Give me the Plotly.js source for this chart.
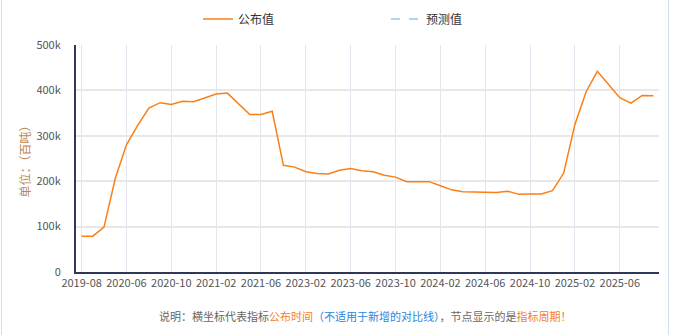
<!DOCTYPE html>
<html>
<head>
<meta charset="utf-8">
<script src="https://cdn.plot.ly/plotly-3.0.1.min.js"></script>
<style>
html,body{margin:0;padding:0;background:#fff;}
#wrap{position:relative;width:679px;height:335px;}
#chart{position:absolute;left:0;top:0;width:679px;height:335px;}
#frame{position:absolute;left:1px;top:0;width:666px;height:335px;border-left:1px solid #d3dcf6;border-right:1px solid #d3dcf6;pointer-events:none;}
</style>
</head>
<body>
<div id="wrap"><div id="chart"></div><div id="frame"></div></div>
<script>
const categories = ["2019-08","2019-10","2020-01","2020-04","2020-06","2020-07","2020-08","2020-09","2020-10","2020-11","2020-12","2021-01","2021-02","2021-03","2021-04","2021-05","2021-06","2021-08","2022-06","2022-12","2023-02","2023-03","2023-04","2023-05","2023-06","2023-07","2023-08","2023-09","2023-10","2023-11","2023-12","2024-01","2024-02","2024-03","2024-04","2024-05","2024-06","2024-07","2024-08","2024-09","2024-10","2024-11","2024-12","2025-01","2025-02","2025-03","2025-04","2025-05","2025-06","2025-07","2025-08","2025-09"];
const publishedValues = [79000,79000,99000,206000,280000,323000,361000,373000,369000,376000,375000,383000,392000,394000,370000,347000,347000,354000,235000,231000,221000,217000,216000,224000,228000,223000,221000,213000,209000,199000,199000,199000,190000,181000,177000,176000,176000,175000,178000,171000,172000,172000,179000,218000,325000,397000,442000,414000,384000,372000,389000,388000];
const forecastCategories = ["2019-08"];
const forecastValues = [null];
const xTickLabels = ["2019-08","2020-06","2020-10","2021-02","2021-06","2023-02","2023-06","2023-10","2024-02","2024-06","2024-10","2025-02","2025-06"];
const yTickVals = [0,100000,200000,300000,400000,500000];
const yTickText = ["0","100k","200k","300k","400k","500k"];

const FONT = '"Noto Sans CJK SC", "Noto Sans", sans-serif';

const traces = [
  {x: categories, y: publishedValues, name: "公布值", type: "scatter", mode: "lines",
   line: {color: "#fb7f17", width: 1.5}},
  {x: forecastCategories, y: forecastValues, name: "预测值", type: "scatter", mode: "lines",
   line: {color: "#9fc3ea", width: 1.5, dash: "dash"}, showlegend: true}
];

const layout = {
  width: 679, height: 335,
  margin: {l: 76, r: 20, t: 45, b: 63, autoexpand: false},
  paper_bgcolor: "#fff", plot_bgcolor: "#fff",
  font: {family: FONT, size: 11, color: "#555"},
  showlegend: true,
  legend: {orientation: "h", x: (198 - 76) / 583, xanchor: "left", y: 1.115, yanchor: "middle",
           font: {family: FONT, size: 12, color: "#333"}, itemwidth: 30, entrywidth: 143,
           bgcolor: "rgba(0,0,0,0)"},
  xaxis: {
    type: "category", categoryorder: "array", categoryarray: categories,
    range: [-0.5, categories.length - 0.5],
    tickmode: "array", tickvals: xTickLabels, ticktext: xTickLabels,
    showgrid: true, gridcolor: "#e3e6ee", gridwidth: 1,
    showline: true, linecolor: "#2f3859", linewidth: 2,
    ticks: "", tickfont: {family: FONT, size: 11, color: "#555"},
    zeroline: false, fixedrange: true
  },
  yaxis: {
    range: [0, 500000], tickmode: "array", tickvals: yTickVals, ticktext: yTickText,
    showgrid: true, gridcolor: "#e8e8e8", gridwidth: 2,
    showline: true, linecolor: "#2f3859", linewidth: 2,
    ticks: "", ticklabelstandoff: 11,
    tickfont: {family: FONT, size: 11, color: "#555"},
    zeroline: false, fixedrange: true,
    title: {text: "单位：（百吨）", font: {family: FONT, size: 12, color: "#c0874f"}, standoff: 3}
  },
  annotations: [
    {xref: "paper", yref: "paper", x: 0.497, y: -0.195, xanchor: "center", yanchor: "middle", showarrow: false,
     font: {family: FONT, size: 11, color: "#666"},
     text: '说明：横坐标代表指标<span style="color:#f5802a">公布时间</span><span style="color:#2b86e0">（不适用于新增的对比线）</span>，节点显示的是<span style="color:#f5802a">指标周期！</span>'}
  ]
};

Plotly.newPlot("chart", traces, layout, {displayModeBar: false, staticPlot: true});
</script>
</body>
</html>
